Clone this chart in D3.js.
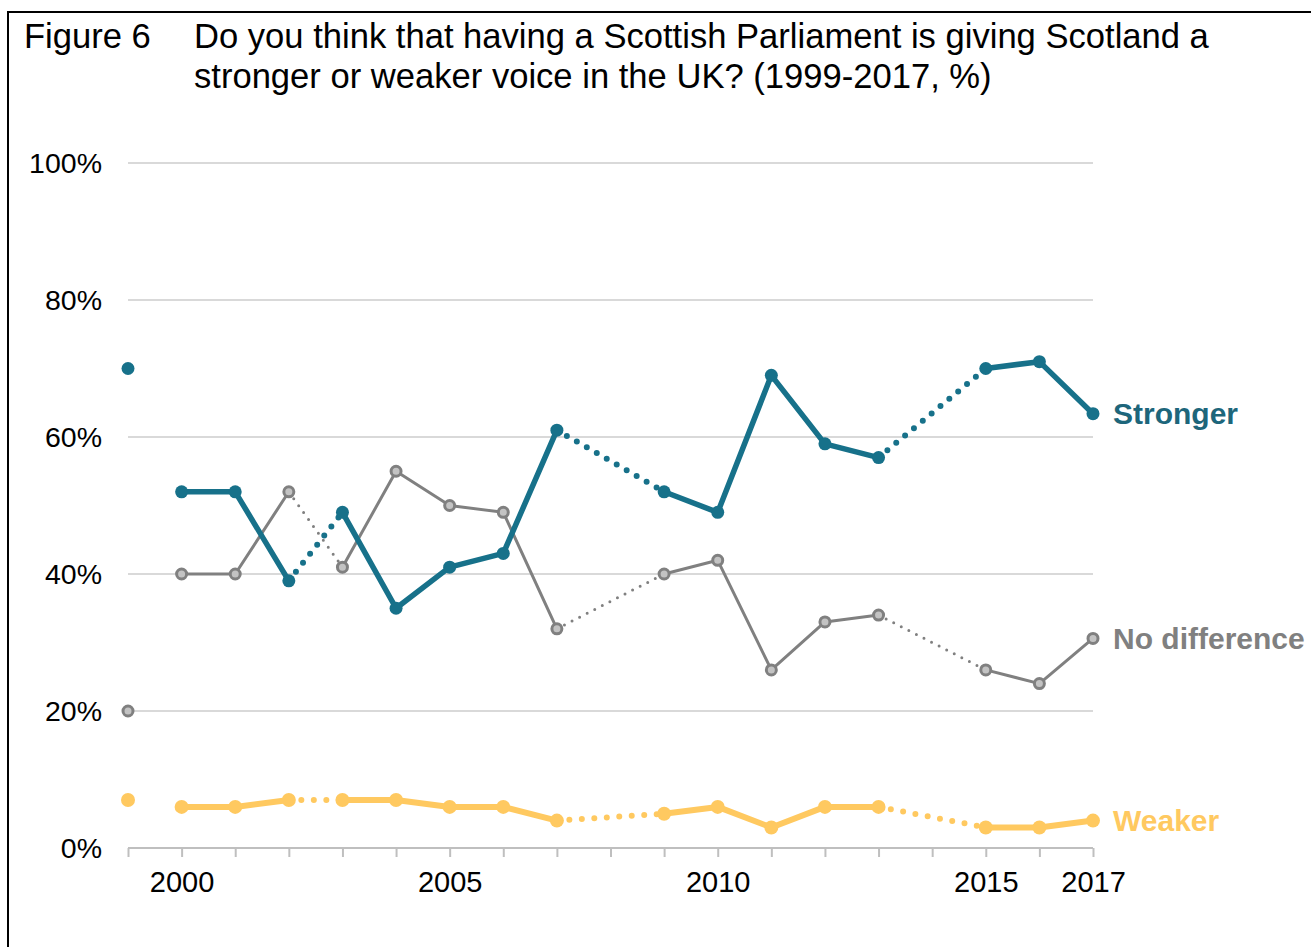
<!DOCTYPE html>
<html>
<head>
<meta charset="utf-8">
<script src="https://cdn.jsdelivr.net/npm/d3@7"></script>
<style>
  html, body { margin: 0; padding: 0; background: #fff; }
  svg { display: block; font-family: "Liberation Sans", Arial, sans-serif; }
</style>
</head>
<body>
<svg id="chart" width="1311" height="947"></svg>
<script>
// Survey years (2008 and 2014 not asked)
const years = [1999, 2000, 2001, 2002, 2003, 2004, 2005, 2006, 2007, 2008,
               2009, 2010, 2011, 2012, 2013, 2014, 2015, 2016, 2017];

const stronger     = [70, 52, 52, 39, 49, 35, 41, 43, 61, null, 52, 49, 69, 59, 57, null, 70, 71, 63.4];
const noDifference = [20, 40, 40, 52, 41, 55, 50, 49, 32, null, 40, 42, 26, 33, 34, null, 26, 24, 30.6];
const weaker       = [ 7,  6,  6,  7,  7,  7,  6,  6,  4, null,  5,  6,  3,  6,  6, null,  3,  3,  4];

// Joins drawn dotted (question wording change / missing year)
const dottedJoins = [[2002, 2003], [2007, 2009], [2013, 2015]];
// Years whose point is not joined to the next one
const unjoinedAfter = [1999];

const yTicks = [0, 20, 40, 60, 80, 100];
const xLabels = [2000, 2005, 2010, 2015, 2017];

const titleLines = [
  "Do you think that having a Scottish Parliament is giving Scotland a",
  "stronger or weaker voice in the UK? (1999-2017, %)"
];

const svg = d3.select("#chart");

// Frame
svg.append("rect")
  .attr("x", 8).attr("y", 12)
  .attr("width", 1400).attr("height", 1000)
  .attr("fill", "none").attr("stroke", "#000").attr("stroke-width", 2);

// Title
svg.append("text")
  .attr("x", 24).attr("y", 48)
  .attr("font-size", 34.6).attr("fill", "#000")
  .text("Figure 6");
svg.append("g").selectAll("text").data(titleLines).join("text")
  .attr("x", 194).attr("y", (d, i) => 48 + i * 40)
  .attr("font-size", 34.6).attr("fill", "#000")
  .text(d => d);

const x = d3.scaleLinear().domain([1999, 2017]).range([128, 1093]);
const y = d3.scaleLinear().domain([0, 100]).range([848, 163]);

// Gridlines
svg.append("g").selectAll("line").data(yTicks.filter(t => t > 0)).join("line")
  .attr("x1", x(1999)).attr("x2", x(2017))
  .attr("y1", d => y(d)).attr("y2", d => y(d))
  .attr("stroke", "#d9d9d9").attr("stroke-width", 2);

// Y axis labels
svg.append("g").selectAll("text").data(yTicks).join("text")
  .attr("x", 102).attr("y", d => y(d))
  .attr("dy", "0.35em")
  .attr("text-anchor", "end")
  .attr("font-size", 28.5).attr("fill", "#000")
  .text(d => d + "%");

// X axis with yearly ticks
const xAxis = d3.axisBottom(x)
  .tickValues(years)
  .tickSize(9)
  .tickFormat(d => xLabels.includes(d) ? String(d) : "");
const gx = svg.append("g").attr("transform", `translate(0,${y(0)})`).call(xAxis);
gx.select(".domain").attr("stroke", "#bfbfbf").attr("stroke-width", 2)
  .attr("d", `M${x(1999)},0H${x(2017)}`);
gx.selectAll(".tick line").attr("stroke", "#bfbfbf").attr("stroke-width", 2);
gx.selectAll(".tick text")
  .attr("font-family", "Liberation Sans, Arial, sans-serif")
  .attr("font-size", 29).attr("fill", "#000")
  .attr("dy", 0).attr("y", 44);

const seriesList = [
  { name: "Stronger", values: stronger, color: "#17718a", width: 5.5, r: 6.5,
    fill: "#17718a", mStroke: 0, dotW: 6, dotGap: 11.5, labelColor: "#1d667b" },
  { name: "No difference", values: noDifference, color: "#808080", width: 3, r: 5,
    fill: "#c3c3c3", mStroke: 3, dotW: 3, dotGap: 8.5, labelColor: "#808080" },
  { name: "Weaker", values: weaker, color: "#ffc960", width: 6, r: 7,
    fill: "#ffc960", mStroke: 0, dotW: 6, dotGap: 12.5, labelColor: "#ffc960" }
];

function segmentsOf(values) {
  const pts = years.map((yr, i) => ({ yr, v: values[i] })).filter(p => p.v != null);
  const segs = [];
  for (let i = 0; i < pts.length - 1; i++) {
    const a = pts[i], b = pts[i + 1];
    if (unjoinedAfter.includes(a.yr)) continue;
    const dotted = dottedJoins.some(j => j[0] === a.yr && j[1] === b.yr);
    segs.push({ a, b, dotted });
  }
  return { pts, segs };
}

const line = d3.line().x(d => x(d.yr)).y(d => y(d.v));

// Draw order: grey first, then teal, then yellow
[seriesList[1], seriesList[0], seriesList[2]].forEach(s => {
  const { pts, segs } = segmentsOf(s.values);
  const g = svg.append("g");

  // Solid runs
  const runs = [];
  let cur = null;
  segs.forEach(sg => {
    if (sg.dotted) { cur = null; return; }
    if (cur && cur[cur.length - 1] === sg.a) cur.push(sg.b);
    else { cur = [sg.a, sg.b]; runs.push(cur); }
  });
  g.selectAll("path.solid").data(runs).join("path")
    .attr("class", "solid")
    .attr("d", line)
    .attr("fill", "none").attr("stroke", s.color)
    .attr("stroke-width", s.width).attr("stroke-linejoin", "round");

  // Dotted joins
  g.selectAll("path.dot").data(segs.filter(sg => sg.dotted)).join("path")
    .attr("class", "dot")
    .attr("d", sg => line([sg.a, sg.b]))
    .attr("fill", "none").attr("stroke", s.color)
    .attr("stroke-width", s.dotW).attr("stroke-linecap", "round")
    .attr("stroke-dasharray", `0 ${s.dotGap}`);

  // Markers
  g.selectAll("circle").data(pts).join("circle")
    .attr("cx", d => x(d.yr)).attr("cy", d => y(d.v))
    .attr("r", s.r)
    .attr("fill", s.fill)
    .attr("stroke", s.mStroke ? s.color : "none")
    .attr("stroke-width", s.mStroke);

  // End label
  const last = pts[pts.length - 1];
  svg.append("text")
    .attr("x", x(last.yr) + 20).attr("y", y(last.v))
    .attr("dy", "0.35em")
    .attr("font-size", 30).attr("font-weight", "bold")
    .attr("fill", s.labelColor)
    .text(s.name);
});
</script>
</body>
</html>
